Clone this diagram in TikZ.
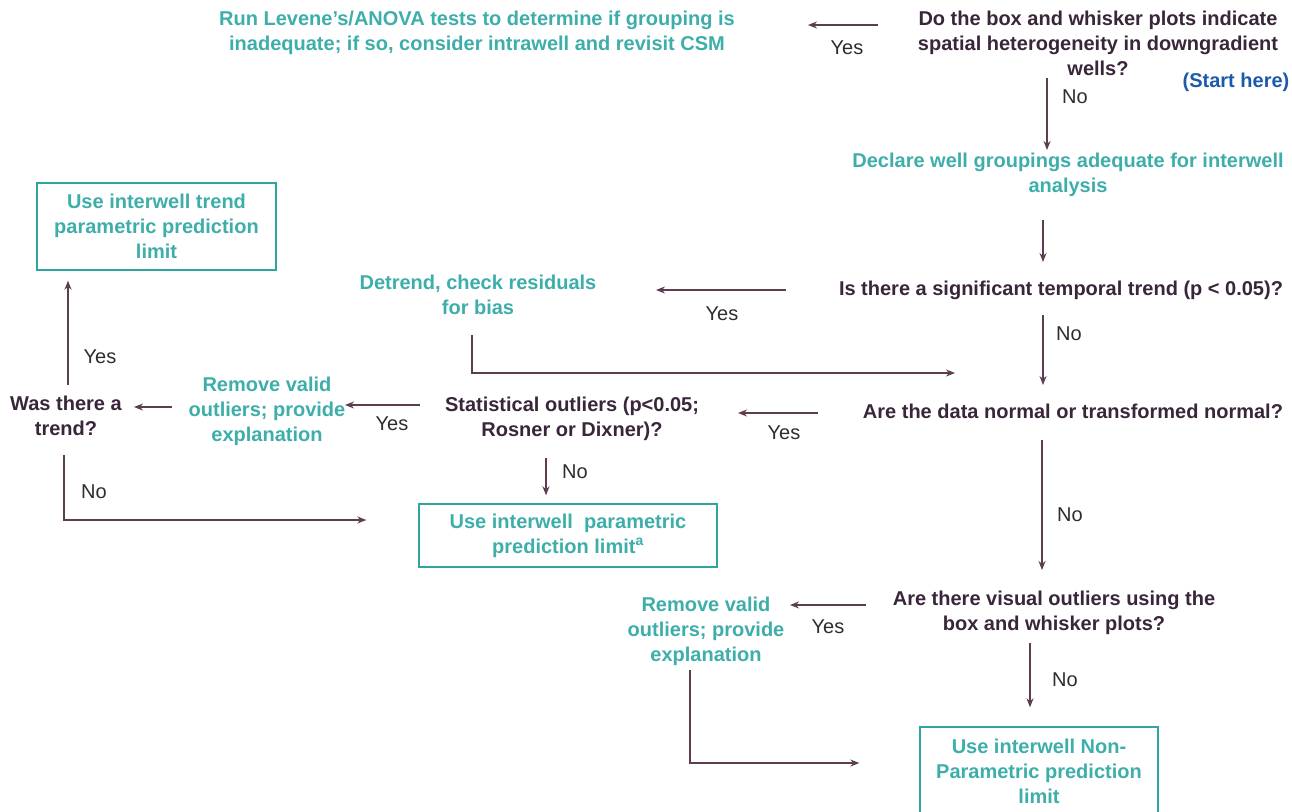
\documentclass[tikz,border=0pt]{standalone}
\usepackage{fontspec}
\setmainfont{Liberation Sans}
\usetikzlibrary{arrows.meta,calc}
\definecolor{tealtxt}{RGB}{62,174,170}
\definecolor{darktxt}{RGB}{58,38,58}
\definecolor{arrowc}{RGB}{92,62,80}
\definecolor{boxc}{RGB}{48,165,160}
\definecolor{startc}{RGB}{30,90,170}
\definecolor{lbl}{RGB}{45,45,45}
\begin{document}
\begin{tikzpicture}[x=1pt,y=-1pt,
  base/.style={inner sep=0pt, align=center, font=\fontsize{20}{25}\selectfont\bfseries},
  question/.style={base,text=darktxt},
  action/.style={base,text=tealtxt},
  endbox/.style={base,text=tealtxt,draw=boxc,line width=1.4pt},
  startlbl/.style={base,text=startc},
  lab/.style={inner sep=0pt,font=\fontsize{20}{25}\selectfont,text=lbl},
  arr/.style={draw=arrowc,line width=1.3pt,-{Stealth[length=9pt,width=7pt]}}]
\fill[white] (0,0) rectangle (1292,811);
\useasboundingbox (0,0) rectangle (1292,811);

% nodes
\node[question] (q1) at (1098,43) {Do the box and whisker plots indicate\\spatial heterogeneity in downgradient\\wells?};
\node[startlbl] (start) at (1236,82) {(Start here)};
\node[action] (lev) at (477,33) {Run Levene's/ANOVA tests to determine if grouping is\\inadequate; if so, consider intrawell and revisit CSM};
\node[action] (decl) at (1068,175) {Declare well groupings adequate for interwell\\analysis};
\node[question] (q2) at (1061,290) {Is there a significant temporal trend (p < 0.05)?};
\node[action] (detr) at (478,295) {Detrend, check residuals\\for bias};
\node[question] (q3) at (1073,411) {Are the data normal or transformed normal?};
\node[question] (stat) at (572,419) {Statistical outliers (p<0.05;\\Rosner or Dixner)?};
\node[action] (rem1) at (267,411) {Remove valid\\outliers; provide\\explanation};
\node[question] (was) at (66,416) {Was there a\\trend?};
\node[endbox,minimum width=239pt,minimum height=87pt] (box1) at (156.5,226.5) {Use interwell trend\\parametric prediction\\limit};
\node[endbox,minimum width=298pt,minimum height=63pt] (box2) at (568,535.5) {Use interwell\ \ parametric\\prediction limit\textsuperscript{a}};
\node[question] (q5) at (1054,613) {Are there visual outliers using the\\box and whisker plots?};
\node[action] (rem2) at (706,631) {Remove valid\\outliers; provide\\explanation};
\node[endbox,minimum width=238pt,minimum height=88pt] (box3) at (1039,771) {Use interwell Non-\\Parametric prediction\\limit};

% labels
\node[lab] (l1) at (847,48) {Yes};
\node[lab] (l2) at (1075,97) {No};
\node[lab] (l3) at (722,314) {Yes};
\node[lab] (l4) at (1069,334) {No};
\node[lab] (l5) at (784,433) {Yes};
\node[lab] (l6) at (392,424) {Yes};
\node[lab] (l7) at (100,357) {Yes};
\node[lab] (l8) at (94,492) {No};
\node[lab] (l9) at (575,472) {No};
\node[lab] (l10) at (1070,515) {No};
\node[lab] (l11) at (828,627) {Yes};
\node[lab] (l12) at (1065,680) {No};

% connectors
\draw[arr] ($(q1)+(-220,-18)$) -- ($(lev)+(331,-8)$);
\draw[arr] ($(q1)+(-51,35)$) -- ($(decl)+(-21,-25)$);
\draw[arr] ($(decl)+(-25,45)$) -- ($(q2)+(-18,-28)$);
\draw[arr] ($(q2)+(-275,0)$) -- ($(detr)+(178,-5)$);
\draw[arr] ($(detr)+(-6,40)$) |- ($(q3)+(-118,-38)$);
\draw[arr] ($(q2)+(-18,25)$) -- ($(q3)+(-30,-26)$);
\draw[arr] ($(q3)+(-255,2)$) -- ($(stat)+(166,-6)$);
\draw[arr] ($(stat)+(-152,-14)$) -- ($(rem1)+(78,-6)$);
\draw[arr] ($(rem1)+(-95,-4)$) -- ($(was)+(68,-9)$);
\draw[arr] ($(was)+(2,-31)$) -- ($(box1.south)+(-88.5,10)$);
\draw[arr] ($(was)+(-2,39)$) |- ($(box2.west)+(-52,-15.5)$);
\draw[arr] ($(stat)+(-26,39)$) -- ($(box2.north)+(-22,-8)$);
\draw[arr] ($(q3)+(-31,29)$) -- ($(q5)+(-12,-43)$);
\draw[arr] ($(q5)+(-188,-8)$) -- ($(rem2)+(84,-26)$);
\draw[arr] ($(rem2)+(-16,39)$) |- ($(box3.west)+(-60,-8)$);
\draw[arr] ($(q5)+(-24,30)$) -- ($(box3.north)+(-9,-19)$);
\end{tikzpicture}
\end{document}
